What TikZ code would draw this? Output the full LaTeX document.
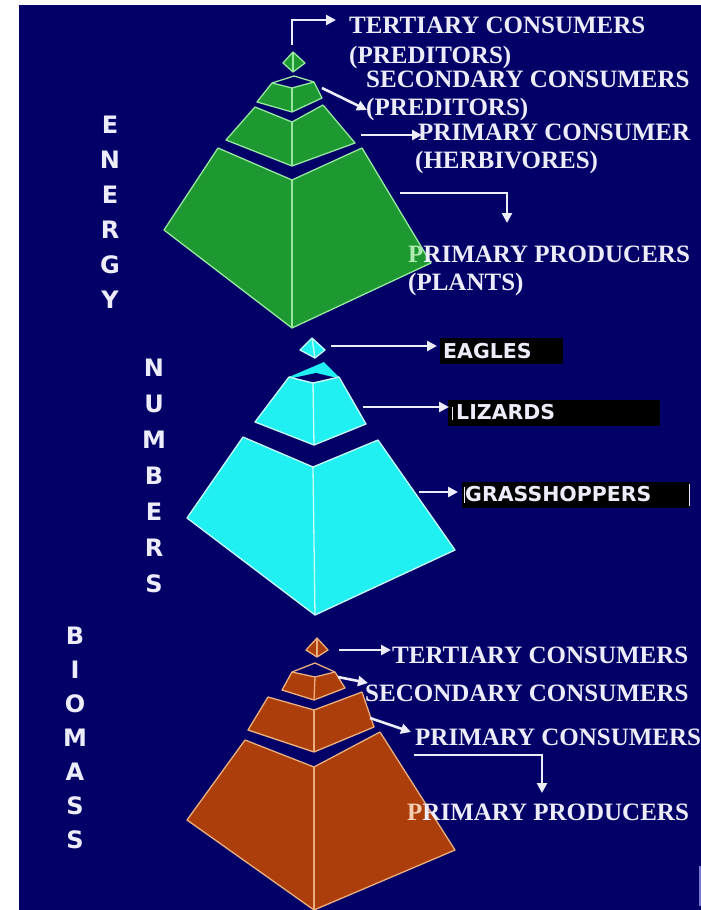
\documentclass[tikz,border=0pt]{standalone}
\usepackage{fontspec}
\setmainfont{Liberation Serif}
\newfontfamily\boxfont{DejaVu Sans}
\usetikzlibrary{arrows.meta}
\definecolor{bg}{RGB}{3,1,104}
\definecolor{txt}{RGB}{236,236,250}
\definecolor{gfill}{RGB}{30,152,48}
\definecolor{gedge}{RGB}{150,232,160}
\definecolor{gtint}{RGB}{175,235,175}
\definecolor{cfill}{RGB}{32,240,242}
\definecolor{cedge}{RGB}{200,255,255}
\definecolor{bfill}{RGB}{172,62,12}
\definecolor{bedge}{RGB}{235,175,125}
\definecolor{btint}{RGB}{245,205,175}
\definecolor{rim}{RGB}{120,120,210}
% #1 fill colour, #2 edge colour, #3 Lb, #4 Fb, #5 Rb, #6 Lt, #7 Ft, #8 Rt, #9 Bt
\newcommand\pyrlayer[9]{%
  \fill[#1] #3 -- #4 -- #7 -- #6 -- cycle;
  \fill[#1] #4 -- #5 -- #8 -- #7 -- cycle;
  \fill[bg] #6 -- #7 -- #8 -- #9 -- cycle;
  \draw[edgeline,#2] #6 -- #3 -- #4 -- #5 -- #8;
  \draw[edgeline,#2] #4 -- #7;
  \draw[edgeline,#2] #6 -- #7 -- #8;
}
% apex: #1 fill, #2 edge, L, T, R, F
\newcommand\pyrapex[6]{%
  \fill[#1] #3 -- #4 -- #5 -- #6 -- cycle;
  \draw[edgeline,#2] #3 -- #4 -- #5 -- #6 -- cycle;
  \draw[edgeline,#2] #4 -- #6;
}
\begin{document}
\begin{tikzpicture}[x=1pt,y=-1pt,
  edgeline/.style={line width=1.3pt, line join=round},
  arr/.style={draw=txt, line width=2.6pt, -{Triangle[length=10pt,width=10pt]}},
  lbl/.style={text=txt, font=\fontsize{25}{28}\selectfont\bfseries, inner sep=0pt, anchor=base west},
  side/.style={text=txt, align=center, inner sep=0pt},
  nbox/.style={fill=black, text=txt, font=\boxfont\fontsize{20.5}{22}\selectfont\bfseries, anchor=west, align=left, inner xsep=3pt, inner ysep=0pt, minimum height=26pt},
  tick/.style={draw=txt, line width=1pt}]
\useasboundingbox (0,0) rectangle (701,910);
\fill[white] (0,0) rectangle (701,910);
\fill[bg] (19,5) rectangle (701,910);
\draw[rim, line width=2pt] (699.5,866) -- (699.5,906);

% ---------------- ENERGY (green) ----------------
\pyrlayer{gfill}{gedge}{(164,230)}{(292,328)}{(431,263)}{(218,148)}{(292,180)}{(362,148)}{(288,118)}
\pyrlayer{gfill}{gedge}{(226,140)}{(292,166)}{(355,143)}{(255,107)}{(292,122)}{(323,105)}{(288,90)}
\pyrlayer{gfill}{gedge}{(257,102)}{(292,112)}{(322,98)}{(272,83)}{(292,88)}{(314,82)}{(294,76)}
\draw[edgeline,gedge] (272,83) -- (294,76) -- (314,82);
\pyrapex{gfill}{gedge}{(283,63)}{(293,52)}{(305,63)}{(293,72)}

\node[side, font=\boxfont\fontsize{24}{35}\selectfont\bfseries] (energy) at (110,212) {E\\N\\E\\R\\G\\Y};

\node[lbl] (e1a) at (349,33) {TERTIARY CONSUMERS};
\node[lbl] (e1b) at (349,63) {(PREDITORS)};
\node[lbl] (e2a) at (366,87) {SECONDARY CONSUMERS};
\node[lbl] (e2b) at (366,115) {(PREDITORS)};
\node[lbl] (e3a) at (418,140) {PRIMARY CONSUMER};
\node[lbl] (e3b) at (415,168) {(HERBIVORES)};
\node[lbl] (e4a) at (408,262) {\textcolor{gtint}{P}RIMARY PRODUCERS};
\node[lbl] (e4b) at (408,290) {(PLANTS)};

\coordinate (ea1) at (292,45);  \coordinate (eb1) at (336,20);
\coordinate (ea2) at (322,88);  \coordinate (eb2) at (367,110);
\coordinate (ea3) at (361,135); \coordinate (eb3) at (422,135);
\coordinate (ea4) at (400,193); \coordinate (eb4) at (507,223);
\draw[arr] (ea1) |- (eb1);
\draw[arr] (ea2) -- (eb2);
\draw[arr] (ea3) -- (eb3);
\draw[arr] (ea4) -| (eb4);

% ---------------- NUMBERS (cyan) ----------------
\pyrlayer{cfill}{cedge}{(187,518)}{(315,615)}{(455,550)}{(243,437)}{(313,467)}{(378,440)}{(310,410)}
\pyrlayer{cfill}{cedge}{(255,422)}{(314,445)}{(366,424)}{(289,377)}{(313,383)}{(339,377)}{(324,362)}
\fill[cfill] (289,377) -- (324,362) -- (339,377) -- (313,383) -- cycle;
\fill[bg] (293,378) -- (316,373) -- (337,378) -- (313,383) -- cycle;
\draw[edgeline,cedge] (289,377) -- (313,383) -- (339,377);
\pyrapex{cfill}{cedge}{(300,350)}{(312,338)}{(325,350)}{(315,358)}

\node[side, font=\boxfont\fontsize{24}{36}\selectfont\bfseries] (numbers) at (154,476) {N\\U\\M\\B\\E\\R\\S};

\node[nbox, text width=117pt] (eagles) at (440,351) {EAGLES};
\node[nbox, text width=206pt] (lizards) at (448,412.5) {\hspace{5pt}LIZARDS};
\node[nbox, text width=222pt] (grass) at (462,494.5) {GRASSHOPPERS};
\draw[tick] ([xshift=4pt,yshift=6pt]lizards.west) -- ([xshift=4pt,yshift=-7pt]lizards.west);
\draw[tick] ([xshift=2pt,yshift=8pt]grass.west) -- ([xshift=2pt,yshift=-8pt]grass.west);
\draw[tick] ([xshift=-1pt,yshift=11pt]grass.east) -- ([xshift=-1pt,yshift=-11pt]grass.east);

\coordinate (na1) at (331,346); \coordinate (na2) at (363,407); \coordinate (na3) at (419,492);
\draw[arr] (na1) -- ([yshift=5pt,xshift=-3pt]eagles.west);
\draw[arr] (na2) -- ([yshift=5.5pt,xshift=1pt]lizards.west);
\draw[arr] (na3) -- ([yshift=2.5pt,xshift=-4pt]grass.west);

% ---------------- BIOMASS (brown) ----------------
\pyrlayer{bfill}{bedge}{(187,820)}{(314,910)}{(455,850)}{(245,740)}{(314,767)}{(380,732)}{(312,705)}
\pyrlayer{bfill}{bedge}{(248,730)}{(314,752)}{(374,727)}{(268,697)}{(314,710)}{(362,692)}{(318,680)}
\pyrlayer{bfill}{bedge}{(282,690)}{(314,700)}{(345,688)}{(292,672)}{(315,677)}{(335,672)}{(315,663)}
\draw[edgeline,bedge] (292,672) -- (315,663) -- (335,672);
\pyrapex{bfill}{bedge}{(306,650)}{(317,638)}{(328,650)}{(317,657)}

\node[side, font=\boxfont\fontsize{24}{34}\selectfont\bfseries] (biomass) at (75,738) {B\\I\\O\\M\\A\\S\\S};

\node[lbl] (b1) at (392,663) {TERTIARY CONSUMERS};
\node[lbl] (b2) at (365,701) {SECONDARY CONSUMERS};
\node[lbl] (b3) at (415,745) {PRIMARY CONSUMERS};
\node[lbl] (b4) at (407,820) {\textcolor{btint}{P}RIMARY PRODUCERS};

\coordinate (ba1) at (339,650); \coordinate (bb1) at (391,650);
\coordinate (ba2) at (338,677); \coordinate (bb2) at (368,683);
\coordinate (ba3) at (370,718); \coordinate (bb3) at (411,732);
\coordinate (ba4) at (414,755); \coordinate (bb4) at (542,793);
\draw[arr] (ba1) -- (bb1);
\draw[arr] (ba2) -- (bb2);
\draw[arr] (ba3) -- (bb3);
\draw[arr] (ba4) -| (bb4);
\end{tikzpicture}
\end{document}
